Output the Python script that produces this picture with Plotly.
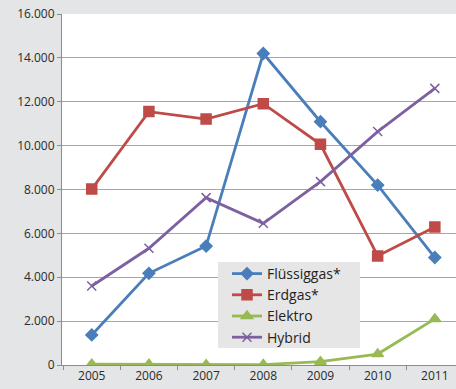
import plotly.graph_objects as go

years = ["2005", "2006", "2007", "2008", "2009", "2010", "2011"]
fluessiggas = [1370, 4180, 5420, 14200, 11090, 8200, 4900]
erdgas = [8020, 11550, 11210, 11910, 10060, 4970, 6290]
elektro = [40, 30, 10, 20, 150, 500, 2100]
hybrid = [3600, 5320, 7630, 6460, 8360, 10640, 12610]

series = [
    ("Flüssiggas*", fluessiggas, "#4a7ebb", "diamond", 9),
    ("Erdgas*", erdgas, "#be4b48", "square", 10),
    ("Elektro", elektro, "#98b954", "triangle-up", 10),
    ("Hybrid", hybrid, "#7d60a0", "x-thin-open", 9),
]

fig = go.Figure()
for name, vals, color, sym, size in series:
    fig.add_trace(go.Scatter(
        x=years, y=vals, name=name, mode="lines+markers",
        line=dict(color=color, width=2.8),
        marker=dict(symbol=sym, size=size, color=color,
                    line=dict(color=color, width=1.5)),
    ))

axis_font = dict(family="Open Sans, Liberation Sans, sans-serif", size=12, color="#2b2b2b")

# plot area spans x 62..456 px, y 14..365 px
def px_x(p):
    return (p - 62) / 394

def px_y(p):
    return (365 - p) / 351

# opaque legend panel drawn over the data
fig.add_shape(
    type="rect", xref="paper", yref="paper",
    x0=px_x(218), x1=px_x(360), y0=px_y(348), y1=px_y(262),
    fillcolor="#e6e6e6", line=dict(width=0), layer="above",
)

fig.update_layout(
    width=456, height=389,
    margin=dict(l=62, r=0, t=14, b=24),
    paper_bgcolor="#e4e5e6",
    plot_bgcolor="#ffffff",
    separators=",.",
    showlegend=True,
    legend=dict(
        x=px_x(227), y=px_y(258), xanchor="left", yanchor="top",
        bgcolor="rgba(0,0,0,0)", borderwidth=0,
        font=dict(family="Open Sans, Liberation Sans, sans-serif", size=14, color="#222"),
        itemwidth=30, tracegroupgap=0,
    ),
    xaxis=dict(
        type="category", range=[-0.52, 6.37],
        showgrid=False, showline=True, linecolor="#8c8c8c", linewidth=1,
        ticks="outside", tickson="boundaries", ticklen=4, tickcolor="#8c8c8c",
        tickfont=axis_font,
    ),
    yaxis=dict(
        range=[0, 16000], dtick=2000, tickformat=",d",
        showgrid=True, gridcolor="#a6a6a6", gridwidth=1,
        showline=True, linecolor="#8c8c8c", linewidth=1,
        ticks="outside", ticklen=4, tickcolor="#8c8c8c",
        zeroline=False, tickfont=axis_font,
    ),
)

fig.write_html("out.html")
